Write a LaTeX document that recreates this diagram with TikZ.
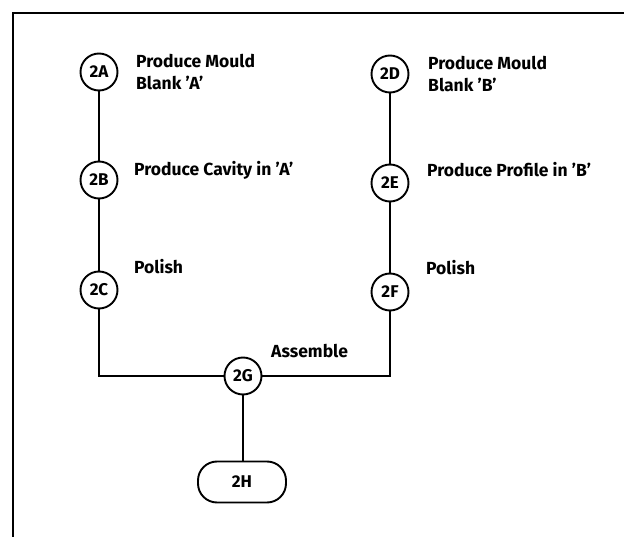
\documentclass[tikz,border=0pt]{standalone}
\usepackage{fontspec}
\setmainfont{Fira Sans}
\begin{document}
\begin{tikzpicture}[x=1pt,y=-1pt,
  every node/.style={font=\bfseries},
  evt/.style={draw,circle,line width=1.9pt,minimum size=37pt,inner sep=0pt,font=\bfseries\fontsize{17}{17}\selectfont},
  endbox/.style={draw,rounded corners=19pt,line width=1.9pt,minimum width=88pt,minimum height=41pt,inner sep=0pt,font=\bfseries\fontsize{17}{17}\selectfont},
  lbl/.style={anchor=north west,align=left,inner sep=0pt,font=\bfseries\fontsize{17.5}{22}\selectfont},
  link/.style={line width=1.9pt}]
\useasboundingbox (0,0) rectangle (624,537);
\draw[line width=1.5pt] (13,537) -- (13,13) -- (624,13);
\node[evt] (a) at (99,72) {2A};
\node[evt] (b) at (99,180) {2B};
\node[evt] (c) at (99,290) {2C};
\node[evt] (d) at (390,74) {2D};
\node[evt] (e) at (390,183) {2E};
\node[evt] (f) at (390,292) {2F};
\node[evt] (g) at (243,376) {2G};
\node[endbox] (h) at (242,482) {2H};
\draw[link] (a) -- (b);
\draw[link] (b) -- (c);
\draw[link] (d) -- (e);
\draw[link] (e) -- (f);
\draw[link] (c) |- (g);
\draw[link] (f) |- (g);
\draw[link] (g) -- (g |- h.north);
\node[lbl] (la) at (136,54) {Produce Mould\\Blank 'A'};
\node[lbl] (lb) at (134,161) {Produce Cavity in 'A'};
\node[lbl] (lc) at (134,259) {Polish};
\node[lbl] (ld) at (428,56) {Produce Mould\\Blank 'B'};
\node[lbl] (le) at (427,162) {Produce Profile in 'B'};
\node[lbl] (lf) at (426,260) {Polish};
\node[lbl] (lg) at (271,344) {Assemble};
\end{tikzpicture}
\end{document}
